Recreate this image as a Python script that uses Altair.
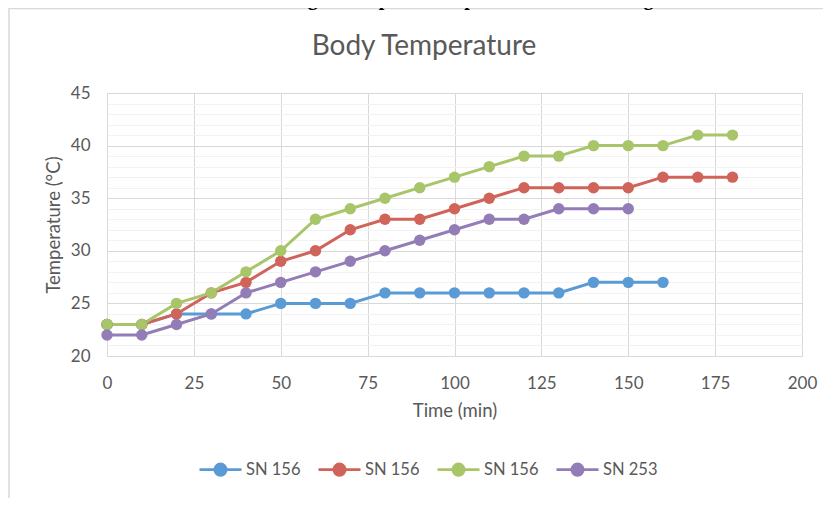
import altair as alt
import pandas as pd

# ---- data ----
fig_caption = "Fig 3: Graph of Temperatures at all Voltages"
chart_title = "Body Temperature"
x_title = "Time (min)"
y_title = "Temperature (°C)"

series_ids = ["s1", "s2", "s3", "s4"]
series_names = ["SN 156", "SN 156", "SN 156", "SN 253"]
series_colors = ["#5B9BD5", "#D0635A", "#A8C56A", "#937DB6"]

time_s1 = [0, 10, 20, 30, 40, 50, 60, 70, 80, 90, 100, 110, 120, 130, 140, 150, 160]
temp_s1 = [23, 23, 24, 24, 24, 25, 25, 25, 26, 26, 26, 26, 26, 26, 27, 27, 27]

time_s2 = [0, 10, 20, 30, 40, 50, 60, 70, 80, 90, 100, 110, 120, 130, 140, 150, 160, 170, 180]
temp_s2 = [23, 23, 24, 26, 27, 29, 30, 32, 33, 33, 34, 35, 36, 36, 36, 36, 37, 37, 37]

time_s3 = [0, 10, 20, 30, 40, 50, 60, 70, 80, 90, 100, 110, 120, 130, 140, 150, 160, 170, 180]
temp_s3 = [23, 23, 25, 26, 28, 30, 33, 34, 35, 36, 37, 38, 39, 39, 40, 40, 40, 41, 41]

time_s4 = [0, 10, 20, 30, 40, 50, 60, 70, 80, 90, 100, 110, 120, 130, 140, 150]
temp_s4 = [22, 22, 23, 24, 26, 27, 28, 29, 30, 31, 32, 33, 33, 34, 34, 34]

x_ticks = [0, 25, 50, 75, 100, 125, 150, 175, 200]
y_ticks = [20, 25, 30, 35, 40, 45]

rows = []
for sid, ts, vs in zip(series_ids,
                       [time_s1, time_s2, time_s3, time_s4],
                       [temp_s1, temp_s2, temp_s3, temp_s4]):
    for t, v in zip(ts, vs):
        rows.append({"series": sid, "time": t, "temp": v})
df = pd.DataFrame(rows)

label_expr = "".join(
    f"datum.value == '{sid}' ? '{name}' : " for sid, name in zip(series_ids, series_names)
) + "''"

FONT = "Lato"
GREY = "#595959"
minor_vals = [v for v in range(20, 46) if v % 5 != 0]

x_enc = alt.X("time:Q",
              scale=alt.Scale(domain=[0, 200], nice=False, zero=False),
              axis=alt.Axis(values=x_ticks, title=x_title, grid=True, gridColor="#D9D9D9",
                            domainColor="#D9D9D9", ticks=False, labelPadding=19,
                            labelFlush=False,
                            labelFont=FONT, labelFontSize=17, labelColor=GREY,
                            titleFont=FONT, titleFontSize=18.5, titleColor=GREY,
                            titleFontWeight="normal", titlePadding=10))
y_enc = alt.Y("temp:Q",
              scale=alt.Scale(domain=[20, 45], nice=False, zero=False),
              axis=alt.Axis(values=y_ticks, title=y_title, grid=True, gridColor="#D9D9D9",
                            domain=False, ticks=False, labelPadding=17,
                            labelFont=FONT, labelFontSize=17, labelColor=GREY,
                            titleFont=FONT, titleFontSize=18.5, titleColor=GREY,
                            titleFontWeight="normal", titlePadding=7))

legend_path = ("M-1,0L1,0M-0.27,0A0.27,0.27 0 1,1 0.27,0"
               "A0.27,0.27 0 1,1 -0.27,0Z")
color_enc = alt.Color("series:N",
                      scale=alt.Scale(domain=series_ids, range=series_colors),
                      legend=alt.Legend(title=None, orient="none", legendX=91, legendY=354,
                                        direction="horizontal", symbolType=legend_path,
                                        symbolSize=1764, symbolStrokeWidth=2.75,
                                        labelExpr=label_expr, labelFont=FONT,
                                        labelFontSize=16.5, labelColor=GREY,
                                        labelOffset=3, columnPadding=12))

minor = alt.Chart(df).mark_point(opacity=0).encode(
    x=x_enc,
    y=alt.Y("temp:Q",
            scale=alt.Scale(domain=[20, 45], nice=False, zero=False),
            axis=alt.Axis(orient="right", values=minor_vals, grid=True, gridColor="#F2F2F2",
                          labels=False, ticks=False, domain=False, title=None)),
)

one = pd.DataFrame({"k": [0]})

frame_left = alt.Chart(one).mark_rule(color="#D9D9D9", strokeWidth=1.5).encode(
    x=alt.value(-98), y=alt.value(-85), y2=alt.value(405))
frame_top = alt.Chart(one).mark_rule(color="#D9D9D9", strokeWidth=1.5).encode(
    x=alt.value(-98), x2=alt.value(716), y=alt.value(-84.5))

caption = alt.Chart(one).mark_text(
    text=fig_caption, font="Liberation Serif", fontWeight="bold", fontSize=20,
    color="#000000", align="center", baseline="alphabetic"
).encode(x=alt.value(373), y=alt.value(-88))

title_mark = alt.Chart(one).mark_text(
    text=chart_title, font=FONT, fontSize=28, color=GREY,
    align="center", baseline="middle"
).encode(x=alt.value(317), y=alt.value(-46))

base = alt.Chart(df).encode(x=x_enc, y=y_enc, color=color_enc)
lines = base.mark_line(strokeWidth=3)
points = base.mark_point(filled=True, size=130, opacity=1)

main = alt.layer(lines, points)

chart = alt.layer(frame_left, frame_top, minor, main, caption, title_mark).resolve_axis(
    y="independent"
).properties(
    width=695, height=263, autosize="none",
    padding={"left": 99, "top": 85, "right": 21, "bottom": 142},
    background="white",
).configure_view(stroke=None)

chart.save("out.html", embed_options={"renderer": "svg", "actions": False})
